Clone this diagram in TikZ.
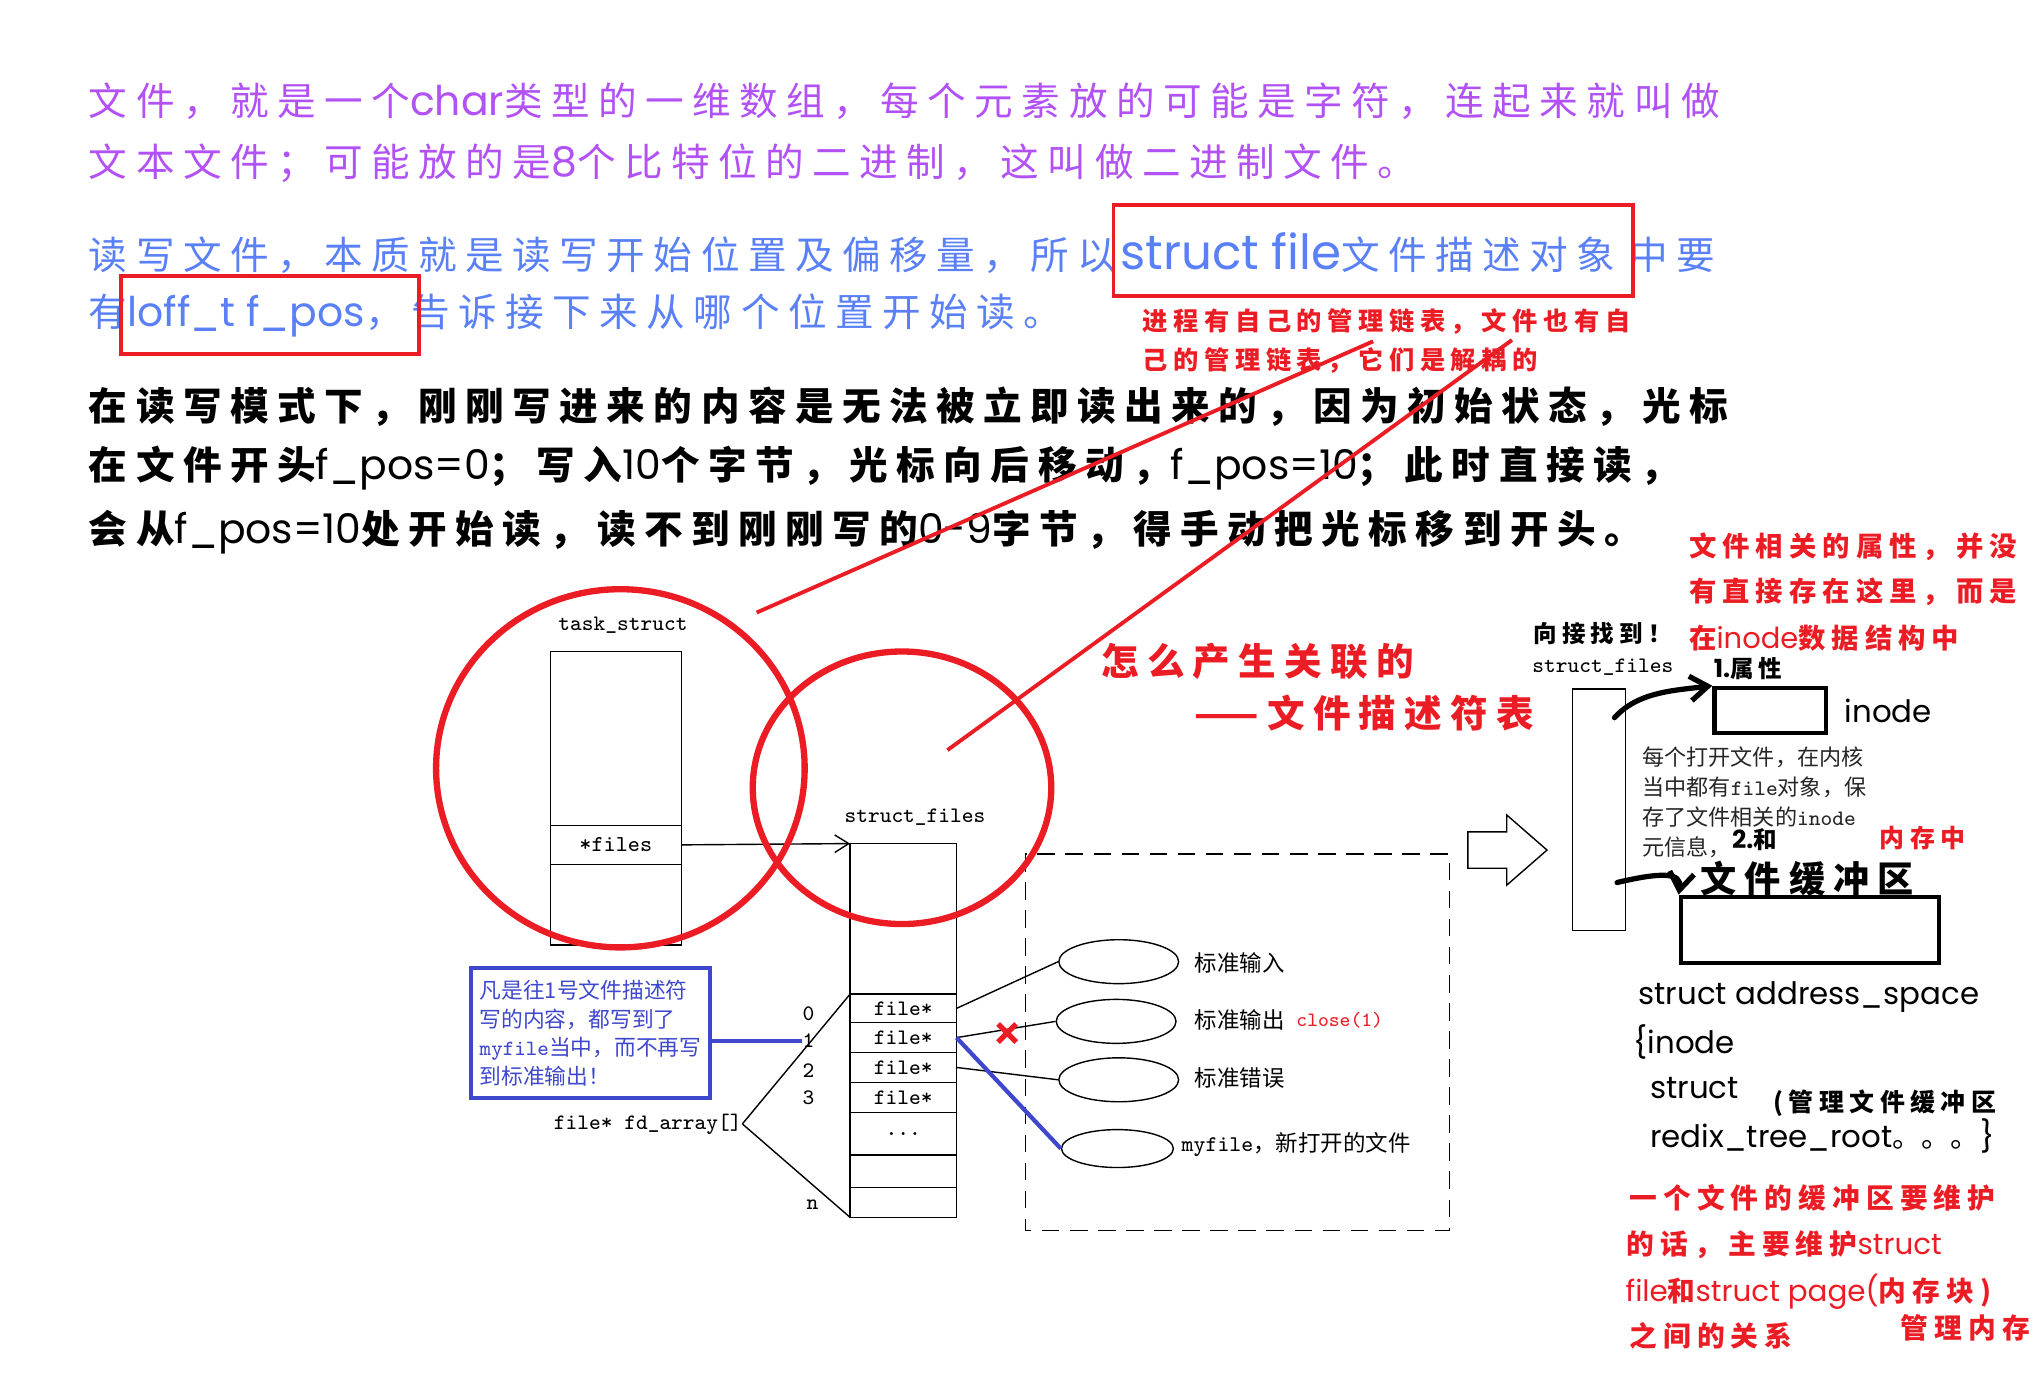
\documentclass[tikz,border=0pt]{standalone}
\usepackage{fontspec}
\usepackage{tikz}
\usetikzlibrary{arrows.meta,positioning,shapes.geometric}
\newfontfamily\hw[LetterSpace=22]{Noto Sans CJK SC}
\newfontfamily\cjk{Noto Sans CJK SC}
\newfontfamily\lat[Scale=1.06]{Poppins}
\newcommand\la[1]{{\lat\mdseries #1}}
\definecolor{purp}{RGB}{178,82,246}
\definecolor{bluet}{RGB}{90,128,248}
\definecolor{redm}{RGB}{236,28,36}
\definecolor{boxblue}{RGB}{63,72,204}

\begin{document}
\begin{tikzpicture}[
        x=0.013cm, y=-0.013cm,
        big/.style={anchor=west, inner sep=0pt, font={\fontsize{11}{13}\hw}},
        bigb/.style={big, font={\fontsize{11}{13}\hw\bfseries}},
        hand/.style={anchor=west, inner sep=0pt, font={\fontsize{#1}{#1}\hw\bfseries}},
        geo/.style={anchor=west, inner sep=0pt, font={\fontsize{8.3}{10}\lat}},
        mono/.style={inner sep=0pt, font={\fontsize{6.3}{7}\ttfamily}},
        cn/.style={anchor=west, inner sep=0pt, font={\fontsize{6.4}{8}\cjk}},
        cell/.style={draw, minimum width=1.066cm, minimum height=#1, inner sep=0pt,
                     outer sep=0pt, font={\fontsize{6.3}{7}\ttfamily}},
        tcell/.style={draw, minimum width=1.313cm, minimum height=#1, inner sep=0pt,
                      outer sep=0pt, font={\fontsize{6.5}{7}\ttfamily}},
        eli/.style={draw, ellipse, minimum width=1.2cm, minimum height=0.44cm, inner sep=0pt},
        hbox/.style={draw, line width=1.2pt, inner sep=0pt},
        redline/.style={redm, line width=1.1pt},
        handarrow/.style={line width=1.5pt, line cap=round, -{Straight Barb[length=5pt,width=7pt]}}
      ]
      \useasboundingbox (0,0) rectangle (1568,1068);

      \node[big, purp] (l1) at (68,78) {文件，就是一个\la{char}类型的一维数组，每个元素放的可能是字符，连起来就叫做};
      \node[big, purp] (l2) at (68,126) {文本文件；可能放的是\la{8}个比特位的二进制，这叫做二进制文件。};
      \node[big, bluet] (l3) at (68,195) {读写文件，本质就是读写开始位置及偏移量，所以\hspace{0.1em}{\lat\fontsize{13}{13}\selectfont struct file}文件描述对象\hspace{0.35em}中要};
      \node[big, bluet] (l4) at (68,243) {有\la{loff\_t f\_pos}，\hspace{0.2em}告诉接下来从哪个位置开始读。};
      \node[bigb] (l5) at (68,313) {在读写模式下，刚刚写进来的内容是无法被立即读出来的，因为初始状态，光标};
      \node[bigb] (l6) at (68,361) {在文件开头\la{f\_pos=0}；写入\la{10}个字节，光标向后移动，\la{f\_pos=10}；此时直接读，};
      \node[bigb] (l7) at (68,410) {会从\la{f\_pos=10}处开始读，读不到刚刚写的\la{0-9}字节，得手动把光标移到开头。};

      \draw[redline] (858,158) rectangle (1258,228);
      \draw[redline] (93,213) rectangle (323,273);
      \node[hand=7.2, redm] (n1) at (880,248) {进程有自己的管理链表，文件也有自};
      \node[hand=7.2, redm] (n2) at (880,278) {己的管理链表，它们是解耦的};

      % task_struct and struct_files
      \node[mono] (tlab) at (480,482) {task\_struct};
      \node[tcell=1.742cm] (ttop) at (474.5,569) {};
      \node[tcell=0.39cm, below=0pt of ttop] (tfiles) {*files};
      \node[tcell=0.806cm, below=0pt of tfiles] (tbot) {};

      \node[mono] (slab) at (705,630) {struct\_files};
      \node[cell=1.508cm] (sftop) at (696,708) {};
      \node[cell=0.286cm, below=0pt of sftop] (f0) {file*};
      \node[cell=0.299cm, below=0pt of f0] (f1) {file*};
      \node[cell=0.299cm, below=0pt of f1] (f2) {file*};
      \node[cell=0.299cm, below=0pt of f2] (f3) {file*};
      \node[cell=0.429cm, below=0pt of f3] (fdots) {...};
      \node[cell=0.325cm, below=0pt of fdots] (c6) {};
      \node[cell=0.299cm, below=0pt of c6] (c7) {};

      \draw[-{Straight Barb[length=4pt,width=5pt]}] (tfiles.east) -- (sftop.north west);

      \node[mono] (i0) at (623,781) {0};
      \node[mono] (i1) at (623,802) {1};
      \node[mono] (i2) at (623,825) {2};
      \node[mono] (i3) at (623,846) {3};
      \node[mono] (in) at (626,928) {n};
      \node[mono, anchor=east] (fda) at (572,866) {file* fd\_array[]};
      \draw (fda.east) -- (f0.north west);
      \draw (fda.east) -- (c7.south west);

      \draw[dash pattern=on 5pt off 3pt] (790,658) rectangle (1117,948);
      \node[eli] (e1) at (862,741) {};
      \node[eli] (e2) at (860,787) {};
      \node[eli] (e3) at (862,832) {};
      \node[eli, minimum width=1.12cm, minimum height=0.38cm] (e4) at (861,885) {};
      \node[cn] (s1) at (920,742) {标准输入};
      \node[cn] (s2) at (920,786) {标准输出};
      \node[mono, redm, font={\fontsize{5.8}{7}\ttfamily}, right=3pt of s2] (cl) {close(1)};
      \node[cn] (s3) at (920,831) {标准错误};
      \node[cn] (s4) at (910,882) {{\ttfamily myfile}，新打开的文件};

      \draw (f0.east) -- (e1.west);
      \draw (f1.east) -- (e2.west);
      \draw (f2.east) -- (e3.west);
      \draw[boxblue, line width=1.2pt] (f1.east) -- (e4.west);
      \draw[redm, line width=1.5pt] (769,789) -- (783,803) (783,789) -- (769,803);

      \node[draw=boxblue, line width=1.2pt, text=boxblue, align=left, inner sep=2.5pt,
            minimum width=2.392cm, minimum height=1.3cm,
            font={\fontsize{6.2}{8.1}\cjk}] (note) at (455,796)
            {凡是往1号文件描述符\\写的内容，都写到了\\{\ttfamily myfile}当中，而不再写\\到标准输出！};
      \draw[boxblue, line width=1.2pt] (note.east |- i1.west) -- (i1.west);

      \draw[redm, line width=1.8pt] (478,592) ellipse [x radius=1.846cm, y radius=1.794cm];
      \draw[redm, line width=1.8pt] (695,607) ellipse [x radius=1.495cm, y radius=1.365cm];
      \draw[redline] (583,472) -- (1058,263);
      \draw[redline] (730,578) -- (1165,262);

      \node[hand=10.7, redm] (q1) at (848,510) {怎么产生关联的};
      \node[hand=10.7, redm] (q2) at (920,549) {——文件描述符表};

      \draw (1131,641) -- (1161,641) -- (1161,628) -- (1192,655) -- (1161,682)
            -- (1161,669) -- (1131,669) -- cycle;

      % right side
      \node[hand=6.7] (find) at (1181,488) {向接找到！};
      \node[mono] (sflab) at (1235,514) {struct\_files};
      \node[draw, minimum width=0.533cm, minimum height=2.418cm, inner sep=0pt] (sfb) at (1232,624) {};
      \node[hand=7.8, redm] (a1) at (1301,421) {文件相关的属性，并没};
      \node[hand=7.8, redm] (a2) at (1301,456) {有直接存在这里，而是};
      \node[hand=7.8, redm] (a3) at (1301,492) {在\la{inode}数据结构中};
      \node[hand=6.7] (p1) at (1320,515) {{\lat 1.}属性};
      \node[hbox, minimum width=1.118cm, minimum height=0.455cm] (ibox) at (1364,547.5) {};
      \node[geo, right=0.16cm of ibox] (ilab) {inode};
      \node[anchor=north west, align=left, inner sep=0pt, text=black!85,
            font={\fontsize{6.3}{8.5}\cjk}] (meta) at (1265,575)
            {每个打开文件，在内核\\当中都有{\ttfamily file}对象，保\\存了文件相关的{\ttfamily inode}\\元信息，};
      \node[hand=6.7] (p2) at (1334,647) {{\lat 2.}和};
      \node[hand=7.1, redm] (mem) at (1448,646) {内存中};
      \node[hand=10.3] (buf) at (1310,677) {文件缓冲区};
      \node[hbox, minimum width=2.587cm, minimum height=0.663cm] (bbox) at (1394.5,716.5) {};

      \coordinate (h1) at (1244,553);
      \coordinate (h2) at (1246,680);
      \draw[handarrow] (h1) .. controls (1262,533) and (1290,532) .. (ibox.north west);
      \draw[handarrow] (h2) .. controls (1280,672) and (1296,672) .. (bbox.north west);

      \node[geo] (as1) at (1262,768) {struct address\_space};
      \node[geo] (as2) at (1258,803) {\{inode};
      \node[geo] (as3) at (1271,838) {struct};
      \node[hand=7.1] (as4) at (1366,850) {(管理文件缓冲区};
      \node[geo] (as5) at (1271,875) {redix\_tree\_root{\cjk 。。。}\}};

      \node[hand=7.9, redm] (b1) at (1255,923) {一个文件的缓冲区要维护};
      \node[hand=7.9, redm] (b2) at (1253,959) {的话，主要维护\la{struct}};
      \node[hand=7.9, redm] (b3) at (1252,995) {\la{file}和\la{struct page(}内存块)};
      \node[hand=7.9, redm] (b4) at (1255,1029) {之间的关系};
      \node[hand=7.9, redm] (b5) at (1464,1023) {管理内存};
    \end{tikzpicture}
\end{document}
